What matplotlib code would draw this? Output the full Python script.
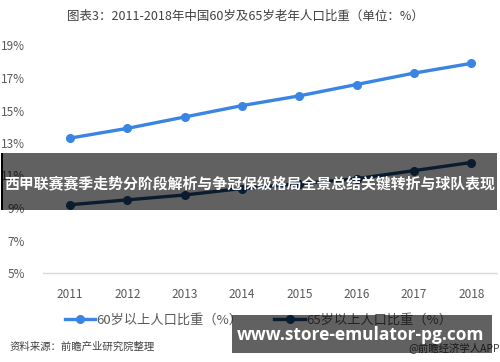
import matplotlib
matplotlib.use("Agg")
import matplotlib.pyplot as plt
from matplotlib.patches import Rectangle

plt.rcParams['font.family'] = ['Noto Sans CJK SC', 'DejaVu Sans']

years = ['2011', '2012', '2013', '2014', '2015', '2016', '2017', '2018']
share_60 = [13.3, 13.9, 14.6, 15.3, 15.9, 16.6, 17.3, 17.9]
share_65 = [9.2, 9.5, 9.8, 10.2, 10.5, 10.8, 11.3, 11.8]
yticks = [5, 7, 9, 11, 13, 15, 17, 19]
ytick_labels = ['5%', '7%', '9%', '11%', '13%', '15%', '17%', '19%']
label_60 = '60岁以上人口比重（%）'
label_65 = '65岁以上人口比重（%）'
title = '图表3：2011-2018年中国60岁及65岁老年人口比重（单位：%）'
source = '资料来源：前瞻产业研究院整理'
credit = '@前瞻经济学人APP'
banner_text = '西甲联赛赛季走势分阶段解析与争冠保级格局全景总结关键转折与球队表现'
url_text = 'www.store-emulator-pg.com'

W, H = 500, 362
fig = plt.figure(figsize=(W / 100, H / 100), dpi=100)
ax = fig.add_axes([43 / W, 1 - 273 / H, (497 - 43) / W, (273 - 45.5) / H])

c60 = '#3a84e4'
c65 = '#1f4a7c'
x = list(range(len(years)))
ax.plot(x, share_60, color=c60, lw=2.4, marker='o', ms=5.5, label=label_60, zorder=3)
ax.plot(x, share_65, color=c65, lw=2.4, marker='o', ms=5.5, label=label_65, zorder=3)

ax.set_xlim(-0.47, 7.45)
ax.set_ylim(5, 19)
ax.set_xticks(x)
ax.set_xticklabels(years)
ax.set_yticks(yticks)
ax.set_yticklabels(ytick_labels)
ax.tick_params(axis='both', length=0, labelsize=8.5, colors='#595959')
ax.tick_params(axis='y', pad=13)
ax.tick_params(axis='x', pad=11)
for s in ['top', 'right', 'left']:
    ax.spines[s].set_visible(False)
ax.spines['bottom'].set_color('#d9d9d9')
ax.spines['bottom'].set_linewidth(1)

fig.text(245 / W, 1 - 16 / H, title, ha='center', va='center', fontsize=9, color='#404040')

leg = fig.legend(loc='center left', bbox_to_anchor=(65 / W, 1 - 320 / H), ncol=2,
                 frameon=False, fontsize=9.5, handlelength=2.3, handletextpad=0.1,
                 columnspacing=2.4, borderpad=0, borderaxespad=0)
for t in leg.get_texts():
    t.set_color('#595959')

fig.text(10 / W, 1 - 347 / H, source, ha='left', va='center', fontsize=7.5, color='#404040',
         style='italic')
fig.text(500 / W, 1 - 348 / H, credit, ha='right', va='center', fontsize=7.5, color='#404040')

# overlay banners
fig.patches.append(Rectangle((1 / W, 1 - 210 / H), 496 / W, 57 / H, transform=fig.transFigure,
                             facecolor='black', alpha=0.62, edgecolor='none', zorder=10))
fig.patches.append(Rectangle((1 / W, 1 - 210 / H), 1.5 / W, 57 / H, transform=fig.transFigure,
                             facecolor='black', edgecolor='none', zorder=10))
fig.text(250 / W, 1 - 183 / H, banner_text, ha='center', va='center', fontsize=10.7,
         fontweight='bold', color='white', zorder=11)

fig.patches.append(Rectangle((232 / W, 1 - 352.7 / H), 260 / W, 37.7 / H, transform=fig.transFigure,
                             facecolor='black', alpha=0.62, edgecolor='none', zorder=10))
fig.text(361 / W, 1 - 335 / H, url_text, ha='center', va='center', fontsize=12.5,
         fontweight='bold', color='white', family=['Open Sans', 'DejaVu Sans'], zorder=11)

fig.savefig('out.png', dpi=100)
